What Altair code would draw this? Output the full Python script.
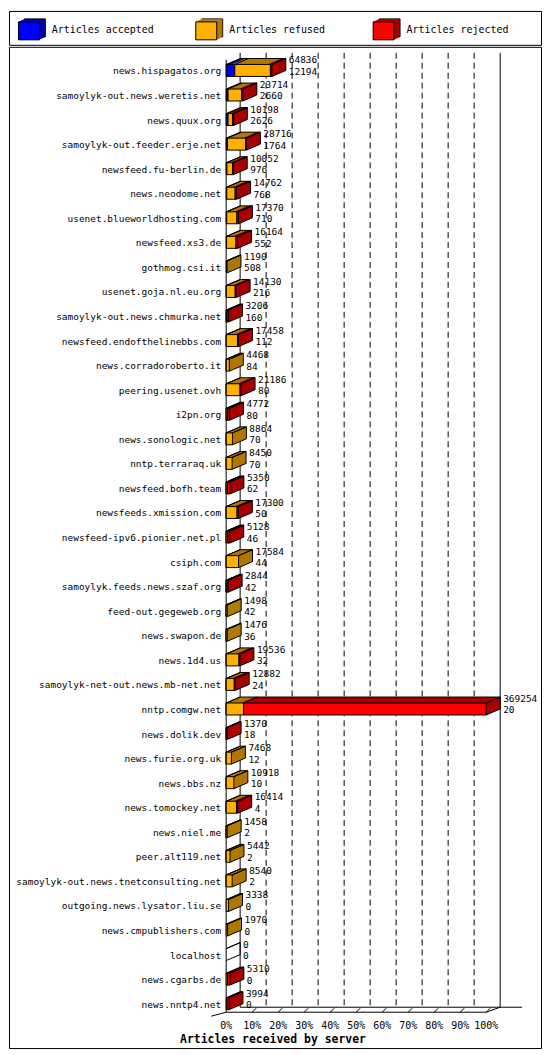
import altair as alt
import pandas as pd

servers = [
    "news.hispagatos.org", "samoylyk-out.news.weretis.net", "news.quux.org",
    "samoylyk-out.feeder.erje.net", "newsfeed.fu-berlin.de", "news.neodome.net",
    "usenet.blueworldhosting.com", "newsfeed.xs3.de", "gothmog.csi.it",
    "usenet.goja.nl.eu.org", "samoylyk-out.news.chmurka.net", "newsfeed.endofthelinebbs.com",
    "news.corradoroberto.it", "peering.usenet.ovh", "i2pn.org", "news.sonologic.net",
    "nntp.terraraq.uk", "newsfeed.bofh.team", "newsfeeds.xmission.com",
    "newsfeed-ipv6.pionier.net.pl", "csiph.com", "samoylyk.feeds.news.szaf.org",
    "feed-out.gegeweb.org", "news.swapon.de", "news.1d4.us", "samoylyk-net-out.news.mb-net.net",
    "nntp.comgw.net", "news.dolik.dev", "news.furie.org.uk", "news.bbs.nz",
    "news.tomockey.net", "news.niel.me", "peer.alt119.net",
    "samoylyk-out.news.tnetconsulting.net", "outgoing.news.lysator.liu.se",
    "news.cmpublishers.com", "localhost", "news.cgarbs.de", "news.nntp4.net",
]
total_articles = [64836, 23714, 10198, 28716, 10052, 14762, 17370, 16164, 1190, 14130,
                  3206, 17458, 4468, 21186, 4772, 8864, 8450, 5350, 17300, 5128,
                  17584, 2844, 1498, 1476, 19536, 12882, 369254, 1370, 7468, 10918,
                  16414, 1458, 5442, 8540, 3338, 1970, 0, 5310, 3994]
accepted = [12194, 2660, 2626, 1764, 976, 768, 710, 552, 508, 216,
            160, 112, 84, 80, 80, 70, 70, 62, 50, 46,
            44, 42, 42, 36, 32, 24, 20, 18, 12, 10,
            4, 2, 2, 2, 0, 0, 0, 0, 0]
refused = [50642, 19554, 6372, 26152, 8076, 11994, 14460, 13312, 682, 12614,
           1046, 15946, 4384, 19606, 2192, 8794, 8380, 1788, 15450, 2382,
           17540, 1102, 1456, 1440, 18204, 11458, 24800, 0, 7456, 10908,
           14610, 1456, 5440, 8538, 3338, 1970, 0, 2000, 1000]
rejected = [2000, 1500, 1200, 800, 1000, 2000, 2200, 2300, 0, 1300,
            2000, 1400, 0, 1500, 2500, 0, 0, 3500, 1800, 2700,
            0, 1700, 0, 0, 1300, 1400, 344434, 1352, 0, 0,
            1800, 0, 0, 0, 0, 0, 0, 3310, 2994]

series_keys = ["accepted", "refused", "rejected"]
series_names = ["Articles accepted", "Articles refused", "Articles rejected"]
front_colors = ["#0000ff", "#ffb000", "#ff0000"]
dark_colors = ["#0000a8", "#b07800", "#a80000"]
pct_ticks = [0, 10, 20, 30, 40, 50, 60, 70, 80, 90, 100]
x_title = "Articles received by server"

FONT = "DejaVu Sans Mono"
W = 534
DX, DY = 14.0, 6.0

max_total = max(total_articles)
vals = {"accepted": accepted, "refused": refused, "rejected": rejected}
rows = []
for i, s in enumerate(servers):
    start = 0
    for key in series_keys:
        v = vals[key][i]
        rows.append(dict(server=s, seg=key, v=v,
                         x0=start / max_total * 100, x1=(start + v) / max_total * 100))
        start += v
seg_df = pd.DataFrame(rows)
seg_df = seg_df[seg_df.v > 0]

srv_df = pd.DataFrame(dict(server=servers, total=total_articles, acc=accepted))
srv_df["tpct"] = srv_df.total / max_total * 100

pct_df = pd.DataFrame(dict(pct=pct_ticks, label=[f"{p}%" for p in pct_ticks]))
floor_df = pd.DataFrame(dict(lo=[pct_ticks[0]], hi=[pct_ticks[-1]]))
title_df = pd.DataFrame(dict(t=[x_title]))

XS = alt.Scale(domain=[0, 100], range=[218, 479], nice=False, zero=False)
YS = alt.Scale(domain=servers, range=[11.4, 972.8], paddingInner=0, paddingOuter=0)


def X(f):
    return alt.X(f, scale=XS, axis=None)


Y = alt.Y("server:N", scale=YS, axis=None)

layers = []
# back wall
layers.append(alt.Chart(pct_df).transform_filter((alt.datum.pct == 0) | (alt.datum.pct == 100))
              .mark_rule(color="black", xOffset=DX)
              .encode(x=X("pct:Q"), y=alt.value(6), y2=alt.value(964)))
layers.append(alt.Chart(pct_df).transform_filter((alt.datum.pct > 0) & (alt.datum.pct < 100))
              .mark_rule(color="black", xOffset=DX, strokeDash=[6, 4])
              .encode(x=X("pct:Q"), y=alt.value(6), y2=alt.value(964)))
# front axis
layers.append(alt.Chart(pct_df).transform_filter(alt.datum.pct == 0)
              .mark_rule(color="black")
              .encode(x=X("pct:Q"), y=alt.value(13), y2=alt.value(969)))
# floor
layers.append(alt.Chart(floor_df).mark_rule(color="black")
              .encode(x=X("lo:Q"), x2="hi:Q", y=alt.value(969)))
layers.append(alt.Chart(floor_df).mark_rule(color="black", xOffset=DX, x2Offset=36)
              .encode(x=X("lo:Q"), x2="hi:Q", y=alt.value(964)))
layers.append(alt.Chart(floor_df).mark_rule(color="black", x2Offset=DX)
              .encode(x=X("hi:Q"), x2="hi:Q", y=alt.value(969), y2=alt.value(964)))
layers.append(alt.Chart(floor_df).mark_rule(color="black", xOffset=-15)
              .encode(x=X("lo:Q"), x2="lo:Q", y=alt.value(973), y2=alt.value(969)))
layers.append(alt.Chart(pct_df).transform_filter(alt.datum.pct > 0)
              .mark_rule(color="black", x2Offset=4)
              .encode(x=X("pct:Q"), x2="pct:Q", y=alt.value(969), y2=alt.value(965)))
layers.append(alt.Chart(pct_df).mark_text(font=FONT, fontSize=10, baseline="middle", align="center")
              .encode(x=X("pct:Q"), y=alt.value(983), text="label:N"))
layers.append(alt.Chart(title_df).mark_text(font=FONT, fontSize=11.5, fontWeight="bold",
                                            baseline="middle", align="center")
              .encode(x=alt.value(265), y=alt.value(997), text="t:N"))

# 3D extrusions (top + side faces), left to right
NSTEP = 28
for i, key in enumerate(series_keys):
    base = (alt.Chart(seg_df).transform_filter(alt.datum.seg == key)
            .transform_calculate(x0e="max(datum.x0 - 1.2, 0)"))
    enc = dict(x=X("x0e:Q"), x2="x1:Q", y=Y)
    for j in range(NSTEP, 0, -1):
        off = DX * j / NSTEP
        layers.append(base.mark_bar(size=12, fill=dark_colors[i], xOffset=off, x2Offset=off,
                                    yOffset=-off * DY / DX).encode(**enc))
# front faces
layers.append(alt.Chart(seg_df).mark_bar(size=12, stroke="black", strokeWidth=1)
              .encode(x=X("x0:Q"), x2="x1:Q", y=Y,
                      fill=alt.Fill("seg:N", scale=alt.Scale(domain=series_keys, range=front_colors),
                                    legend=None)))
# box edges
DIAG = "M0,0L1,-0.428571"
diag_kw = dict(shape=DIAG, size=4 * DX * DX, filled=False, stroke="black", strokeWidth=1, opacity=1)
zero_srv = alt.Chart(srv_df).transform_calculate(z="0")
layers.append(zero_srv.mark_rule(color="black", xOffset=DX, x2Offset=DX, yOffset=-12)
              .encode(x=X("z:Q"), x2="tpct:Q", y=Y))
layers.append(alt.Chart(srv_df).mark_tick(orient="vertical", size=12, thickness=1, color="black",
                                          opacity=1, xOffset=DX, yOffset=-6)
              .encode(x=X("tpct:Q"), y=Y))
layers.append(zero_srv.mark_point(yOffset=-6, **diag_kw).encode(x=X("z:Q"), y=Y))
layers.append(alt.Chart(srv_df).mark_point(yOffset=-6, **diag_kw).encode(x=X("tpct:Q"), y=Y))
layers.append(alt.Chart(srv_df).mark_point(yOffset=6, **diag_kw).encode(x=X("tpct:Q"), y=Y))
layers.append(alt.Chart(seg_df).mark_point(yOffset=-6, **diag_kw).encode(x=X("x1:Q"), y=Y))

# labels
layers.append(alt.Chart(srv_df).mark_text(font=FONT, fontSize=9.5, align="right", baseline="middle", dy=1)
              .encode(x=alt.value(213), y=Y, text="server:N"))
layers.append(alt.Chart(srv_df).mark_text(font=FONT, fontSize=9.5, align="left", baseline="middle",
                                          dx=17, dy=-10)
              .encode(x=X("tpct:Q"), y=Y, text=alt.Text("total:Q", format="d")))
layers.append(alt.Chart(srv_df).mark_text(font=FONT, fontSize=9.5, align="left", baseline="middle",
                                          dx=17, dy=1.5)
              .encode(x=X("tpct:Q"), y=Y, text=alt.Text("acc:Q", format="d")))

main = alt.layer(*layers).properties(width=W, height=1005)

# legend
leg_df = pd.DataFrame(dict(name=series_names, idx=[0, 1, 2]))
LX = alt.Scale(domain=[0, 3], range=[0, W], nice=False, zero=True)
RECT = "M-1.05,-0.9L1.05,-0.9L1.05,0.9L-1.05,0.9Z"
leg_layers = []
for i in range(3):
    base = alt.Chart(leg_df).transform_filter(alt.datum.idx == i)
    lenc = dict(x=alt.X("idx:Q", scale=LX, axis=None), y=alt.value(20))
    for j in range(12, 0, -1):
        off = 6.0 * j / 12
        kw = dict(shape=RECT, size=400, filled=True, opacity=1, fill=dark_colors[i],
                  xOffset=20 + off, yOffset=-off * 0.5, strokeWidth=0)
        if j == 12:
            kw.update(stroke="black", strokeWidth=1)
        leg_layers.append(base.mark_point(**kw).encode(**lenc))
    leg_layers.append(base.mark_point(shape=RECT, size=400, filled=True, opacity=1,
                                      fill=front_colors[i], stroke="black", strokeWidth=1,
                                      xOffset=20).encode(**lenc))
leg_layers.append(alt.Chart(leg_df).mark_text(font=FONT, fontSize=10, align="left", baseline="middle", dx=43)
                  .encode(x=alt.X("idx:Q", scale=LX, axis=None), y=alt.value(19), text="name:N"))
legend = alt.layer(*leg_layers).properties(width=W, height=34)

chart = (alt.vconcat(legend, main, spacing=0)
         .properties(padding=0)
         .configure_view(stroke="black", strokeWidth=1))

chart.save("out.html", embed_options={"renderer": "svg", "actions": False})
